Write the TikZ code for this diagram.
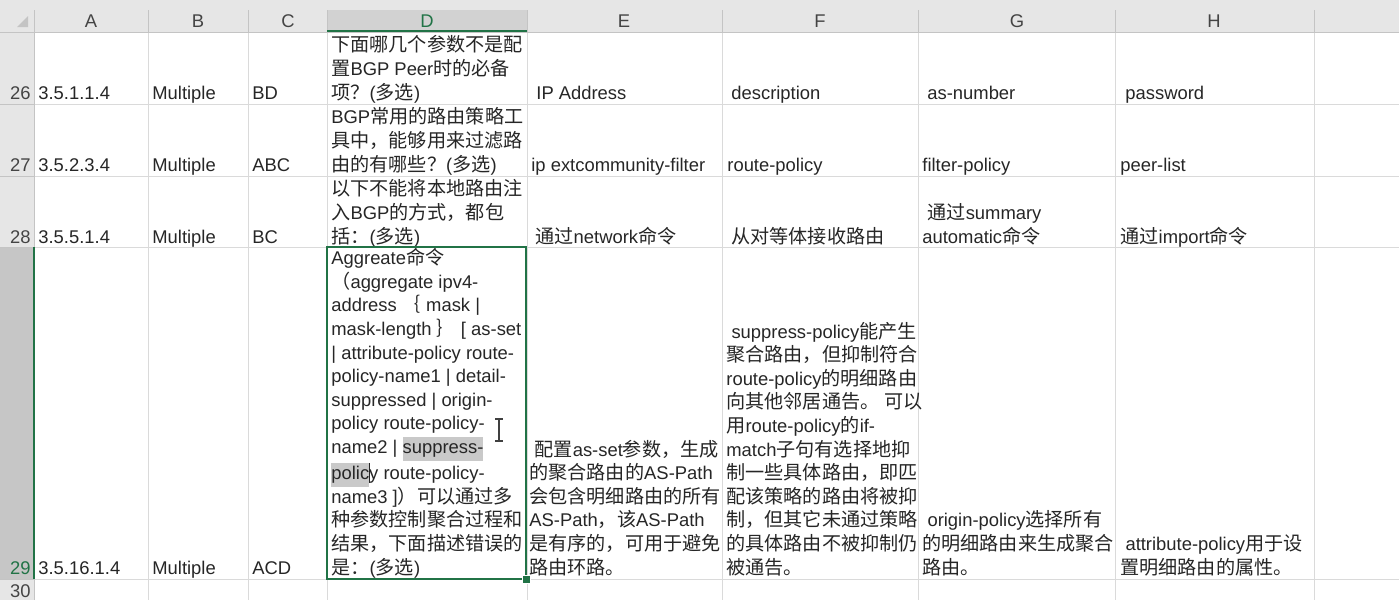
\documentclass[tikz,border=0pt]{standalone}
\usepackage{fontspec}
\setmainfont{Liberation Sans}
\newfontfamily\zhfont[Scale=1.04]{Noto Sans CJK SC}
\newfontfamily\enfont{Liberation Sans}
% Chinese characters switch to the CJK font by themselves
\newXeTeXintercharclass\zhclass
\newcount\zhcode
\newcommand{\zhrange}[2]{\zhcode=#1 \loop\XeTeXcharclass\zhcode=\zhclass \advance\zhcode by 1 \ifnum\zhcode<#2 \repeat}
\zhrange{"3000}{"3040}
\zhrange{"4E00}{"A000}
\zhrange{"FF00}{"FFF0}
\XeTeXinterchartoks 0 \zhclass = {\zhfont}
\XeTeXinterchartoks 4095 \zhclass = {\zhfont}
\XeTeXinterchartoks \zhclass 0 = {\enfont}
\XeTeXinterchartoks \zhclass 4095 = {\enfont}
\XeTeXinterchartokenstate=1

\definecolor{txtgray}{HTML}{262626}
\definecolor{gridgray}{HTML}{DADADA}
\definecolor{headgray}{HTML}{E6E6E6}
\definecolor{headline}{HTML}{C4C4C4}
\definecolor{selgray}{HTML}{D2D2D2}
\definecolor{rowsel}{HTML}{C6C6C6}
\definecolor{xlgreen}{HTML}{217346}
\definecolor{hlgray}{HTML}{C9C9C9}
\definecolor{headtxt}{HTML}{444444}

\newcommand{\cellfont}{\fontsize{9.2pt}{11.8pt}\selectfont}
\newcommand{\ml}[1]{\parbox[b]{150pt}{#1}}
\newcommand{\selhl}[1]{{\setlength{\fboxsep}{0pt}\colorbox{hlgray}{\strut #1}}}
\newcommand{\txtcaret}{\rlap{\rule[-1.5pt]{0.5pt}{10pt}}}

\begin{document}
\begin{tikzpicture}[x=0.5pt,y=-0.5pt,
    cell/.style={anchor=base west,inner sep=0pt,font=\cellfont,text=txtgray},
    rowno/.style={anchor=base east,inner sep=0pt,font=\cellfont,text=headtxt},
    colno/.style={anchor=base,inner sep=0pt,font=\cellfont,text=headtxt}]
          \useasboundingbox (0,0) rectangle (1399,600);
          \fill[white] (0,0) rectangle (1399,600);
          \fill[headgray] (0,0) rectangle (1399,32);        % column headers
          \fill[selgray] (327,10) rectangle (527,31);
          \fill[headgray] (0,32) rectangle (34,600);        % row headers
          \fill[rowsel] (0,247) rectangle (34,579);
          \fill[headline] (28,16) -- (28,27) -- (17,27) -- cycle;
          \draw[gridgray] (148,32) -- (148,600) (248,32) -- (248,600)
          (327,32) -- (327,600) (527,32) -- (527,600)
          (722,32) -- (722,600) (918,32) -- (918,600)
          (1115,32) -- (1115,600) (1314,32) -- (1314,600);
          \draw[gridgray] (34,104) -- (1399,104) (34,176) -- (1399,176)
          (34,247) -- (1399,247) (34,579) -- (1399,579);
          \draw[headline] (34,10) -- (34,600) (148,10) -- (148,32) (248,10) -- (248,32)
          (327,10) -- (327,32) (527,10) -- (527,32) (722,10) -- (722,32)
          (918,10) -- (918,32) (1115,10) -- (1115,32) (1314,10) -- (1314,32);
          \draw[headline] (0,32) -- (1399,32) (0,104) -- (34,104) (0,176) -- (34,176)
          (0,247) -- (34,247) (0,579) -- (34,579);
          \draw[xlgreen,line width=1pt] (327,31) -- (527,31);
          \draw[xlgreen,line width=1pt] (34,247) -- (34,579);
          \node[colno] (hA) at (91,27) {A};
          \node[colno] (hB) at (198,27) {B};
          \node[colno] (hC) at (288,27) {C};
          \node[colno,text=xlgreen] (hD) at (427,27) {D};
          \node[colno] (hE) at (624,27) {E};
          \node[colno] (hF) at (820,27) {F};
          \node[colno] (hG) at (1017,27) {G};
          \node[colno] (hH) at (1214,27) {H};
          \node[rowno] (r26) at (31,99) {26};
          \node[rowno] (r27) at (31,171) {27};
          \node[rowno] (r28) at (31,243) {28};
          \node[rowno,text=xlgreen] (r29) at (31,574) {29};
          \node[rowno] (r30) at (31,597) {30};
          % row 26
          \node[cell] (a26) at (38,99) {3.5.1.1.4};
          \node[cell] (b26) at (152,99) {Multiple};
          \node[cell] (c26) at (252,99) {BD};
          \node[cell] (d26) at (331,99) {\ml{下面哪几个参数不是配\\置BGP Peer时的必备\\项？(多选)}};
          \node[cell] (e26) at (536,99) {IP Address};
          \node[cell] (f26) at (731,99) {description};
          \node[cell] (g26) at (927,99) {as-number};
          \node[cell] (h26) at (1125,99) {password};
          % row 27
          \node[cell] (a27) at (38,171) {3.5.2.3.4};
          \node[cell] (b27) at (152,171) {Multiple};
          \node[cell] (c27) at (252,171) {ABC};
          \node[cell] (d27) at (331,171) {\ml{BGP常用的路由策略工\\具中，能够用来过滤路\\由的有哪些？(多选)}};
          \node[cell] (e27) at (531,171) {ip extcommunity-filter};
          \node[cell] (f27) at (727,171) {route-policy};
          \node[cell] (g27) at (922,171) {filter-policy};
          \node[cell] (h27) at (1120,171) {peer-list};
          % row 28
          \node[cell] (a28) at (38,243) {3.5.5.1.4};
          \node[cell] (b28) at (152,243) {Multiple};
          \node[cell] (c28) at (252,243) {BC};
          \node[cell] (d28) at (331,243) {\ml{以下不能将本地路由注\\入BGP的方式，都包\\括：(多选)}};
          \node[cell] (e28) at (535,243) {通过network命令};
          \node[cell] (f28) at (731,243) {从对等体接收路由};
          \node[cell] (g28) at (922,243) {\ml{~通过summary\\automatic命令}};
          \node[cell] (h28) at (1120,243) {通过import命令};
          % row 29
          \node[cell] (a29) at (38,574) {3.5.16.1.4};
          \node[cell] (b29) at (152,574) {Multiple};
          \node[cell] (c29) at (252,574) {ACD};
          \node[cell] (d29) at (331,574) {\ml{Aggreate命令\\（aggregate ipv4-\\address ｛ mask |\\mask-length ｝ [ as-set\\| attribute-policy route-\\policy-name1 | detail-\\suppressed | origin-\\policy route-policy-\\name2 | \selhl{suppress-}\\\selhl{polic}\txtcaret y route-policy-\\name3 ]）可以通过多\\种参数控制聚合过程和\\结果，下面描述错误的\\是：(多选)}};
          \node[cell] (e29) at (529,574) {\ml{~配置as-set参数，生成\\的聚合路由的AS-Path\\会包含明细路由的所有\\AS-Path，该AS-Path\\是有序的，可用于避免\\路由环路。}};
          \node[cell] (f29) at (726,574) {\ml{~suppress-policy能产生\\聚合路由，但抑制符合\\route-policy的明细路由\\向其他邻居通告。 可以\\用route-policy的if-\\match子句有选择地抑\\制一些具体路由，即匹\\配该策略的路由将被抑\\制，但其它未通过策略\\的具体路由不被抑制仍\\被通告。}};
          \node[cell] (g29) at (922,574) {\ml{~origin-policy选择所有\\的明细路由来生成聚合\\路由。}};
          \node[cell] (h29) at (1120,574) {\ml{~attribute-policy用于设\\置明细路由的属性。}};
          % selected cell and mouse pointer
          \draw[xlgreen,line width=1pt] (327,247) rectangle (526,579);
          \filldraw[fill=xlgreen,draw=white,line width=0.5pt] (522,575) rectangle (530,583);
          \draw[black!75,line width=0.6pt] (499,420) -- (499,440) (495,419) -- (503,419) (495,441) -- (503,441);
        \end{tikzpicture}
\end{document}
